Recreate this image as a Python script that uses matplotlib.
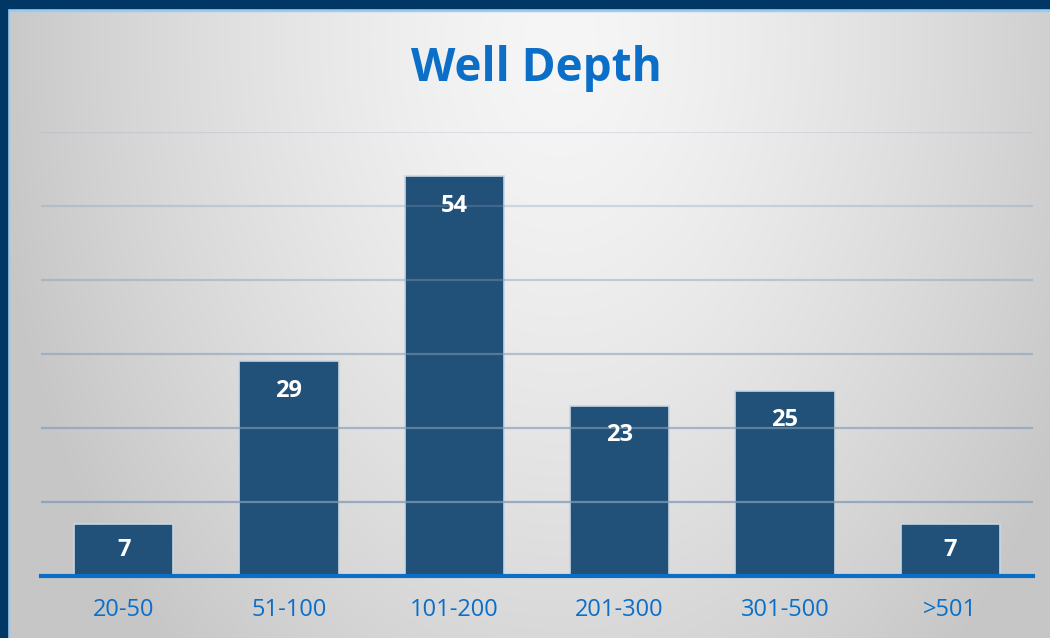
import numpy as np
import matplotlib.pyplot as plt
from matplotlib.patches import Rectangle

# well depth ranges (ft) and number of wells
depth_ranges = ["20-50", "51-100", "101-200", "201-300", "301-500", ">501"]
well_counts = [7, 29, 54, 23, 25, 7]
grid_values = [10, 20, 30, 40, 50, 60]

plt.rcParams["font.family"] = ["Open Sans", "DejaVu Sans"]

W, H = 1050, 638
fig = plt.figure(figsize=(W / 100, H / 100), dpi=100)

# soft radial grey background
bg = fig.add_axes([0, 0, 1, 1], zorder=-10)
xx, yy = np.meshgrid(np.arange(W), np.arange(H))
r = np.sqrt(((xx - 560) / 560.0) ** 2 + ((yy - 40) / 820.0) ** 2)
shade = np.clip(246 - 46 * r ** 1.4, 198, 250) / 255.0
bg.imshow(np.dstack([shade] * 3), aspect="auto", extent=[0, W, H, 0])
bg.set_xlim(0, W)
bg.set_ylim(H, 0)
bg.axis("off")

# dark frame on top and left with thin light-blue inner edge
navy = "#003764"
edge = "#9ccbf2"
fig.patches.append(Rectangle((0, 1 - 8 / H), 1, 8 / H, transform=fig.transFigure, color=navy, zorder=5))
fig.patches.append(Rectangle((0, 0), 7 / W, 1, transform=fig.transFigure, color=navy, zorder=5))
fig.patches.append(Rectangle((7 / W, 1 - 11 / H), 1, 3 / H, transform=fig.transFigure, color=edge, zorder=4))
fig.patches.append(Rectangle((7 / W, 0), 2 / W, 1 - 8 / H, transform=fig.transFigure, color=edge, zorder=4))

ax = fig.add_axes([41 / W, 62.5 / H, 992 / W, 443.4 / H])
ax.patch.set_alpha(0)
x = np.arange(len(depth_ranges))

ax.bar(x, well_counts, width=0.6, color="#215078", edgecolor="#c9d6e3", linewidth=1.2, zorder=2)

# gridlines, fading toward the lighter top
for i, g in enumerate(grid_values):
    a = 0.75 - 0.11 * i
    ax.axhline(g, color="#7f9bb6", alpha=a, linewidth=1.6, zorder=3)
ax.axhline(0, color="#0b6fc7", linewidth=3, zorder=4, clip_on=False)

for xi, v in zip(x, well_counts):
    ax.text(xi, max(v - 4, v / 2), str(v), ha="center", va="center",
            color="white", fontsize=17, fontweight="bold", zorder=5)

ax.set_xlim(-0.5, len(depth_ranges) - 0.5)
ax.set_ylim(0, 60)
ax.set_xticks(x)
ax.set_xticklabels(depth_ranges, color="#0b6fc7", fontsize=17)
ax.tick_params(axis="x", length=0, pad=16)
ax.set_yticks([])
for s in ax.spines.values():
    s.set_visible(False)

fig.text(536 / W, 1 - 68 / H, "Well Depth", ha="center", va="center",
         color="#0b6fc7", fontsize=33, fontweight="bold")

fig.savefig("out.png", dpi=100)
